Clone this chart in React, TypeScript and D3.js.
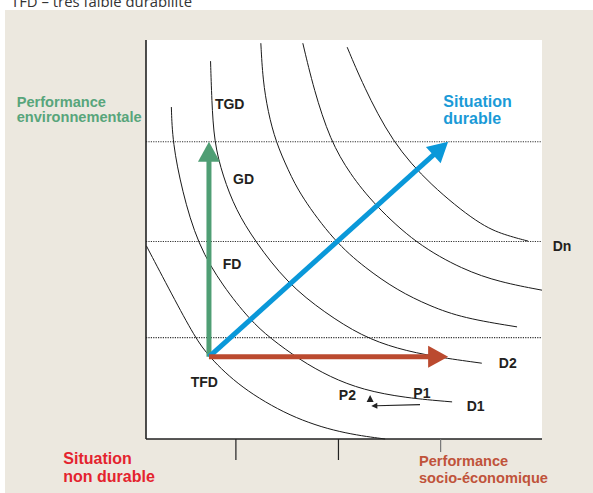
import React from 'react';
import * as d3 from 'd3';

const W = 593;
const H = 493;

// Iso-durability curves: [performance socio-économique, performance environnementale] on a 0–100 scale
const curveTFD: [number, number][] = [
  [0.1, 48.4], [6.6, 36.1], [12.4, 25.4], [15.9, 20.6], [23.7, 13.0], [36.4, 5.5], [49.0, 1.5], [60.4, 0],
];
const curveD1: [number, number][] = [
  [6.4, 83.2], [6.7, 74.4], [9.1, 62.2], [13.1, 48.6], [19.4, 38.3], [26.3, 29.8], [31.3, 25.3],
  [38.9, 19.8], [46.5, 15.5], [54.8, 12.3], [65.4, 10.3], [77.3, 9.3],
];
const curveD2: [number, number][] = [
  [16.3, 94.7], [16.6, 85.0], [17.2, 74.4], [19.4, 65.9], [22.7, 57.4], [27.5, 49.6], [35.6, 39.1],
  [45.2, 31.6], [54.5, 25.8], [63.4, 22.6], [73.0, 20.6], [84.8, 19.0],
];
const curveD3: [number, number][] = [
  [29.0, 99.2], [29.5, 90.0], [30.8, 82.0], [32.8, 74.4], [35.9, 67.4], [39.1, 60.9], [47.5, 49.6],
  [55.3, 42.9], [63.4, 37.3], [71.7, 33.3], [80.1, 30.3], [93.7, 28.1],
];
const curveD4: [number, number][] = [
  [39.6, 99.2], [42.4, 87.5], [46.5, 74.9], [51.5, 66.4], [57.8, 58.6], [68.2, 48.9], [80.1, 42.4],
  [89.4, 39.3], [100, 37.3],
];
const curveDn: [number, number][] = [
  [50.8, 98.2], [54.8, 88.7], [62.1, 74.4], [71.7, 63.7], [84.3, 53.6], [90.7, 51.1], [96.5, 49.6],
];
const allCurves = [curveTFD, curveD1, curveD2, curveD3, curveD4, curveDn];

const durabilityLevels = [25.4, 49.5, 74.5];
const axisTicks = [22.7, 48.6, 74.4];

const origin: [number, number] = [15.9, 20.6];
const envTarget: [number, number] = [15.9, 74.5];
const ecoTarget: [number, number] = [76.3, 20.6];
const durableTarget: [number, number] = [76.3, 74.5];
const p1Move: [number, number][] = [[69.2, 8.6], [56.9, 8.3]];
const p2Move: [number, number][] = [[56.6, 9.3], [56.6, 11.0]];

const curveLabels = [
  { text: 'TGD', x: 17.4, y: 82.7 },
  { text: 'GD', x: 22.0, y: 63.9 },
  { text: 'FD', x: 19.4, y: 42.6 },
  { text: 'TFD', x: 11.3, y: 13.1 },
  { text: 'D2', x: 89.1, y: 17.7 },
  { text: 'D1', x: 81.0, y: 7.1 },
  { text: 'P1', x: 67.5, y: 10.2 },
  { text: 'P2', x: 48.7, y: 9.8 },
  { text: 'Dn', x: 102.7, y: 47.2 },
];

const envLabel = ['Performance', 'environnementale'];
const durableLabel = ['Situation', 'durable'];
const nonDurableLabel = ['Situation', 'non durable'];
const ecoLabel = ['Performance', 'socio-économique'];
const topNote = 'TFD – très faible durabilité';

const x = d3.scaleLinear().domain([0, 100]).range([146, 542]);
const y = d3.scaleLinear().domain([0, 100]).range([439, 40]);

const lineGen = d3
  .line<[number, number]>()
  .x((d) => x(d[0]))
  .y((d) => y(d[1]))
  .curve(d3.curveBasis);

function arrowGeom(p0: [number, number], p1: [number, number], len: number, hw: number) {
  const x1 = x(p0[0]);
  const y1 = y(p0[1]);
  const tx = x(p1[0]);
  const ty = y(p1[1]);
  const dx = tx - x1;
  const dy = ty - y1;
  const d = Math.hypot(dx, dy);
  const ux = dx / d;
  const uy = dy / d;
  const bx = tx - ux * len;
  const by = ty - uy * len;
  const nx = -uy;
  const ny = ux;
  return {
    x1,
    y1,
    x2: bx + ux * 1,
    y2: by + uy * 1,
    head: `M${tx},${ty}L${bx + nx * hw},${by + ny * hw}L${bx - nx * hw},${by - ny * hw}Z`,
  };
}

const FONT = "'Liberation Sans', Arial, Helvetica, sans-serif";

function BigArrow({ to, color }: { to: [number, number]; color: string }) {
  const g = arrowGeom(origin, to, 20, 11);
  return (
    <g>
      <line x1={g.x1} y1={g.y1} x2={g.x2} y2={g.y2} stroke={color} strokeWidth={5} />
      <path d={g.head} fill={color} />
    </g>
  );
}

export default function App() {
  const p1 = arrowGeom(p1Move[0], p1Move[1], 6, 3);
  const p2 = arrowGeom(p2Move[0], p2Move[1], 7, 3.5);
  return (
    <svg
      width={W}
      height={H}
      style={{ position: 'absolute', left: 0, top: 0, background: '#ffffff' }}
      fontFamily={FONT}
    >
      <rect x={5} y={10} width={W - 5} height={H - 10} fill="#ece8df" />
      <text x={11} y={7} fontSize={14} fill="#333" fontFamily="'Open Sans', 'DejaVu Sans', sans-serif" textLength={181} lengthAdjust="spacingAndGlyphs">
        {topNote}
      </text>
      <rect x={x(0)} y={y(100)} width={x(100) - x(0)} height={y(0) - y(100)} fill="#ffffff" />

      {durabilityLevels.map((v, i) => (
        <line key={i} x1={x(0)} x2={x(100)} y1={y(v)} y2={y(v)} stroke="#333" strokeWidth={1.2} strokeDasharray="1.2 1.2" />
      ))}

      {allCurves.map((c, i) => (
        <path key={i} d={lineGen(c) || ''} fill="none" stroke="#1a1a1a" strokeWidth={1} />
      ))}

      <line x1={x(0)} x2={x(0)} y1={y(100)} y2={y(0)} stroke="#222" strokeWidth={1.6} />
      <line x1={x(0)} x2={x(100)} y1={y(0)} y2={y(0)} stroke="#222" strokeWidth={1.6} />
      {axisTicks.map((t, i) => (
        <line
          key={i}
          x1={x(t)}
          x2={x(t)}
          y1={y(0)}
          y2={y(0) + (i < 2 ? 21 : 13)}
          stroke={i < 2 ? '#222' : '#777'}
          strokeWidth={1.2}
        />
      ))}

      <BigArrow to={envTarget} color="#4f9e74" />
      <BigArrow to={durableTarget} color="#0a98d9" />
      <BigArrow to={ecoTarget} color="#bb4a2f" />

      <line x1={p1.x1} y1={p1.y1} x2={p1.x2} y2={p1.y2} stroke="#222" strokeWidth={1.2} />
      <path d={p1.head} fill="#222" />
      <path d={p2.head} fill="#222" />

      {curveLabels.map((l, i) => (
        <text key={i} x={x(l.x)} y={y(l.y)} fontSize={14} fontWeight="bold" fill="#231f20">
          {l.text}
        </text>
      ))}

      {envLabel.map((t, i) => (
        <text key={i} x={16.7} y={106.5 + i * 15} fontSize={14.6} fontWeight="bold" fill="#58a57b">
          {t}
        </text>
      ))}
      {durableLabel.map((t, i) => (
        <text key={i} x={443.3} y={106.8 + i * 17.2} fontSize={16} fontWeight="bold" fill="#1a9ad7">
          {t}
        </text>
      ))}
      {nonDurableLabel.map((t, i) => (
        <text key={i} x={63.3} y={464 + i * 17.7} fontSize={16} fontWeight="bold" fill="#e4232e">
          {t}
        </text>
      ))}
      {ecoLabel.map((t, i) => (
        <text key={i} x={419} y={466 + i * 17} fontSize={14.6} fontWeight="bold" fill="#c0533a">
          {t}
        </text>
      ))}
    </svg>
  );
}
